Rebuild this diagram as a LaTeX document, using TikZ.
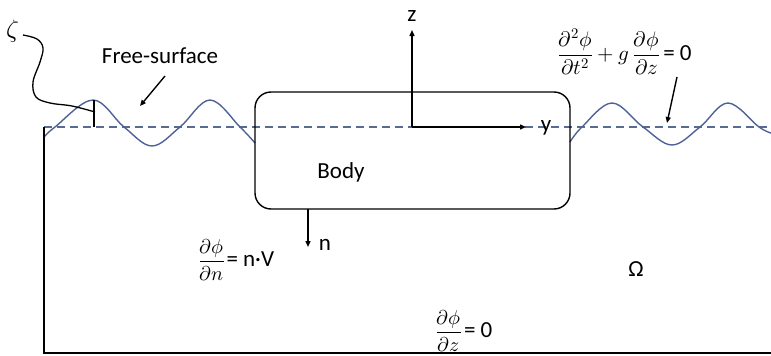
\documentclass[tikz,border=0pt]{standalone}
\usepackage{fontspec}
\usepackage{unicode-math}
\setmainfont{Carlito}
\setmathfont{Latin Modern Math}
\usetikzlibrary{arrows.meta}
\definecolor{wavec}{RGB}{78,98,150}
\definecolor{dashc}{RGB}{88,108,145}
\begin{document}
\begin{tikzpicture}[x=1pt,y=-1pt,line width=1.4pt,
  every node/.style={inner sep=0pt, font=\fontsize{23}{27}\selectfont},
  arr/.style={-{Triangle[length=6pt,width=5pt]}},
  eq/.style={anchor=west, font=\fontsize{20}{24}\selectfont},
  eqbig/.style={anchor=west, font=\fontsize{21}{25}\selectfont},
  wave/.style={wavec, line width=1.4pt},
  thin/.style={line width=1.3pt}]
\useasboundingbox (0,0) rectangle (771,356);
% still water line
\coordinate (dl) at (44,127);
\coordinate (dr) at (771,127);
\draw[dashc, line width=1.1pt, dash pattern=on 8pt off 5pt] (dl) -- (dr);
% waves
\draw[wave] plot[smooth, tension=0.6] coordinates {(44,137) (55,127) (93,100) (124,127) (152,146) (180,127) (210,100) (240,127) (255,143)};
\draw[wave] plot[smooth, tension=0.6] coordinates {(570,142) (582,127) (612,103) (643,127) (672,145) (700,127) (728,103) (759,127) (771,133)};
% domain
\coordinate (bl) at (44,353);
\coordinate (br) at (771,353);
\draw (dl) -- (bl) -- (br);
% body
\node[draw, line width=1.4pt, rounded corners=16pt, minimum width=315pt, minimum height=117pt] (body) at (412.5,150.5) {};
\node[anchor=base] (bodylbl) at (341,178) {Body};
% axes
\coordinate (O) at (412,127);
\coordinate (ztip) at (412,30);
\coordinate (ytip) at (526,127);
\draw[arr] (O) -- (ztip);
\draw[arr] (O) -- (ytip);
\node[anchor=base] (zl) at (412,21) {z};
\node[anchor=base] (yl) at (546,131) {y};
% normal
\coordinate (nfoot) at (308,209);
\coordinate (ntip) at (308,247);
\draw[arr] (nfoot) -- (ntip);
\node[anchor=base] (nl) at (325,250) {n};
% free surface label
\node[anchor=base] (fs) at (160,63) {Free-surface};
\coordinate (fsa) at (165,76);
\coordinate (fsb) at (140,106);
\draw[arr] (fsa) -- (fsb);
% zeta
\node (zeta) at (13,31) {\fontsize{25}{29}\selectfont$\zeta$};
\coordinate (zc) at (95,112);
\draw[thin] plot[smooth, tension=0.6] coordinates {(23,35) (37,39) (43,48) (40,62) (33,82) (36,97) (50,103) (72,106) (95,112)};
\coordinate (ztop) at (94,100);
\coordinate (zbot) at (94,127);
\draw[thin] (ztop) -- (zbot);
% free surface condition
\node[eqbig] (fscond) at (557,52) {$\dfrac{\partial^2\phi}{\partial t^2}+g\,\dfrac{\partial\phi}{\partial z}$\fontsize{23}{27}\selectfont\kern3pt= 0};
\coordinate (fca) at (677,77);
\coordinate (fcb) at (667,123);
\draw[arr] (fca) -- (fcb);
% body condition
\node[eq] (bcond) at (198,260) {$\dfrac{\partial\phi}{\partial n}$\fontsize{23}{27}\selectfont\kern1.5pt= n·V};
% bottom condition
\node[eq] (botcond) at (435,331) {$\dfrac{\partial\phi}{\partial z}$\fontsize{23}{27}\selectfont\kern2pt= 0};
% domain
\node[anchor=base] (omega) at (636,276) {Ω};
\end{tikzpicture}
\end{document}
